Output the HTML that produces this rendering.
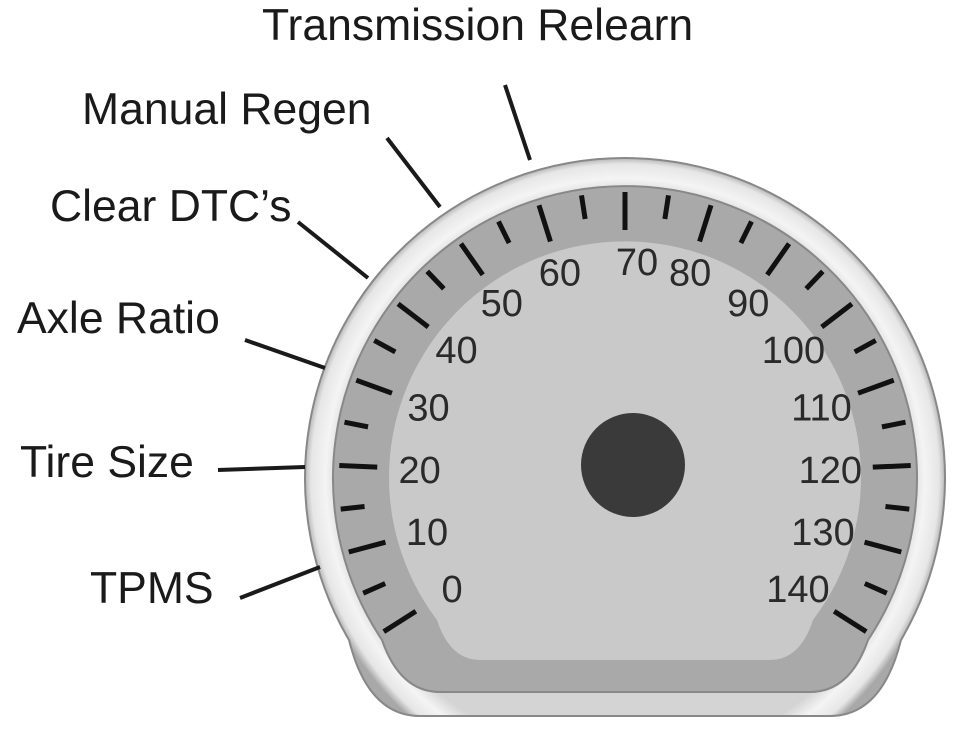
<!DOCTYPE html>
<html><head><meta charset="utf-8"><style>
html,body{margin:0;padding:0;background:#fff;width:973px;height:733px;overflow:hidden}
svg{display:block}
</style></head><body>
<svg width="973" height="733" viewBox="0 0 973 733" xmlns="http://www.w3.org/2000/svg">
<defs>
<radialGradient id="bz" cx="625" cy="478" r="322" gradientUnits="userSpaceOnUse">
<stop offset="0.88" stop-color="#d4d4d4"/><stop offset="0.93" stop-color="#f4f4f4"/><stop offset="0.975" stop-color="#e6e6e6"/><stop offset="1" stop-color="#a8a8a8"/></radialGradient>
</defs>
<path d="M349,640 A320 320 0 1 1 901,640 Q882,716 830,716 L420,716 Q368,716 349,640 Z" fill="url(#bz)" stroke="#888" stroke-width="2"/>
<path d="M382,640 A292 292 0 1 1 868,640 Q850,692 810,692 L440,692 Q400,692 382,640 Z" fill="#a9a9a9" stroke="#888" stroke-width="2"/>
<path d="M437,620 A236 236 0 1 1 813,620 Q800,660 770,660 L480,660 Q450,660 437,620 Z" fill="#c9c9c9"/>
<g id="ticks" stroke="#111" stroke-width="5" stroke-linecap="butt"></g>
<g id="labels" font-family="Liberation Sans, sans-serif" font-size="38" fill="#2a2a2a" text-anchor="middle"></g>
<circle cx="633" cy="465" r="52" fill="#3a3a3a"/>
<g stroke="#1a1a1a" stroke-width="4">
<line x1="505" y1="85" x2="530" y2="160"/>
<line x1="387" y1="138" x2="440" y2="207"/>
<line x1="298" y1="222" x2="368" y2="278"/>
<line x1="245" y1="340" x2="325" y2="368"/>
<line x1="218" y1="470" x2="305" y2="467"/>
<line x1="240" y1="598" x2="320" y2="567"/>
</g>
<g font-family="Liberation Sans, sans-serif" font-size="44.5" fill="#1a1a1a">
<text x="262" y="40">Transmission Relearn</text>
<text x="82" y="124">Manual Regen</text>
<text x="50" y="221">Clear DTC’s</text>
<text x="17" y="333">Axle Ratio</text>
<text x="20" y="477">Tire Size</text>
<text x="90" y="603">TPMS</text>
</g>
<script>
(function(){
var cx=625,cy=478,ns="http://www.w3.org/2000/svg";
var t=document.getElementById("ticks"),l=document.getElementById("labels");
for(var v=0;v<=140;v+=5){
 var a=(212.5-v*1.75)*Math.PI/180,c=Math.cos(a),s=Math.sin(a);
 var r1=(v%10==0)?248:262,r2=286;
 var ln=document.createElementNS(ns,"line");
 ln.setAttribute("x1",cx+r1*c);ln.setAttribute("y1",cy-r1*s);
 ln.setAttribute("x2",cx+r2*c);ln.setAttribute("y2",cy-r2*s);
 t.appendChild(ln);
 if(v%10==0){
  var tx=document.createElementNS(ns,"text");
  var rr=205+12*Math.max(0,s);
  tx.setAttribute("x",cx+rr*c+(v==70?12:0));tx.setAttribute("y",cy-rr*s+14);
  tx.textContent=v;l.appendChild(tx);
 }
}
})();
</script>
</svg>
</body></html>
